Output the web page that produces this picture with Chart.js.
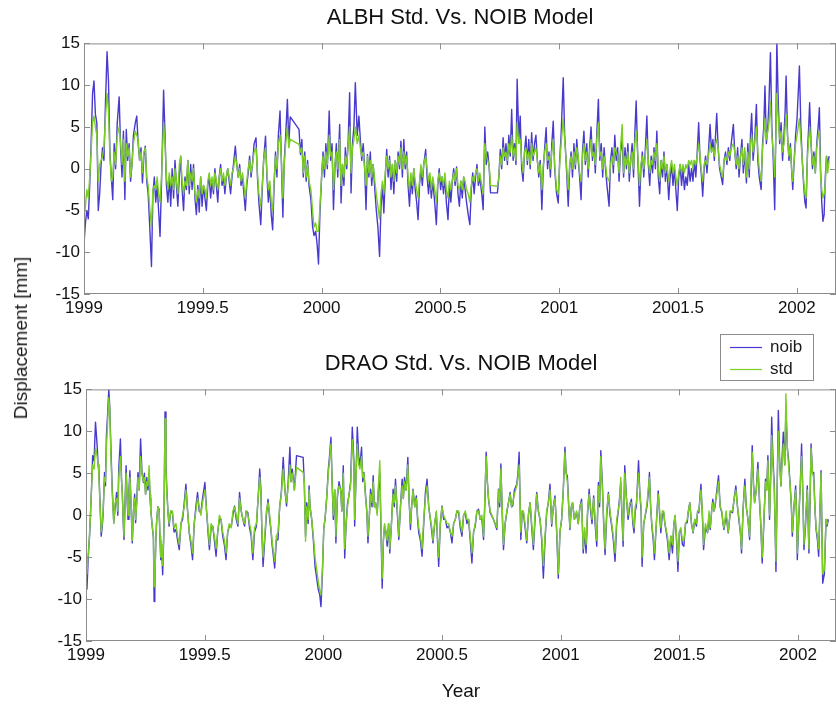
<!DOCTYPE html>
<html>
<head>
<meta charset="utf-8">
<title>ALBH / DRAO Std. Vs. NOIB Model</title>
<script src="https://cdn.jsdelivr.net/npm/chart.js@4.4.1/dist/chart.umd.min.js"></script>
<style>
  body { margin: 0; background: #fff; }
  #wrap { position: relative; width: 836px; height: 704px; overflow: hidden; font-family: "Liberation Sans", Arial, Helvetica, sans-serif; }
  #wrap canvas { position: absolute; left: 0; }
  #ylab { position: absolute; left: 21px; top: 338px; transform: translate(-50%, -50%) rotate(-90deg); font-size: 19px; color: #1a1a1a; white-space: nowrap; }
</style>
</head>
<body>
<div id="wrap">
  <canvas id="albh" width="836" height="330" style="top:0"></canvas>
  <canvas id="drao" width="836" height="374" style="top:330px"></canvas>
  <div id="ylab">Displacement [mm]</div>
</div>
<script>
// ---- data (decimal year, displacement in mm) ----
const xTicks = [1999, 1999.5, 2000, 2000.5, 2001, 2001.5, 2002];
const yTicks = [-15, -10, -5, 0, 5, 10, 15];
const seriesNames = ['noib', 'std'];

const albhYears = [
1999.000,1999.006,1999.012,1999.018,1999.024,1999.030,1999.036,1999.042,1999.048,1999.054,
1999.060,1999.066,1999.072,1999.078,1999.084,1999.090,1999.097,1999.103,1999.109,1999.115,
1999.121,1999.127,1999.133,1999.140,1999.148,1999.154,1999.160,1999.166,1999.172,1999.178,
1999.184,1999.190,1999.196,1999.202,1999.208,1999.216,1999.222,1999.228,1999.234,1999.240,
1999.246,1999.252,1999.258,1999.264,1999.270,1999.276,1999.284,1999.290,1999.296,1999.302,
1999.308,1999.314,1999.320,1999.326,1999.335,1999.341,1999.347,1999.353,1999.359,1999.365,
1999.371,1999.377,1999.383,1999.389,1999.395,1999.401,1999.407,1999.413,1999.419,1999.425,
1999.431,1999.437,1999.443,1999.449,1999.455,1999.461,1999.467,1999.473,1999.479,1999.485,
1999.491,1999.497,1999.503,1999.509,1999.515,1999.521,1999.527,1999.533,1999.539,1999.545,
1999.551,1999.557,1999.563,1999.569,1999.575,1999.581,1999.587,1999.593,1999.599,1999.605,
1999.611,1999.617,1999.623,1999.629,1999.637,1999.643,1999.649,1999.655,1999.661,1999.667,
1999.673,1999.679,1999.685,1999.691,1999.697,1999.703,1999.709,1999.716,1999.724,1999.730,
1999.736,1999.744,1999.750,1999.756,1999.764,1999.770,1999.776,1999.782,1999.788,1999.794,
1999.800,1999.806,1999.812,1999.818,1999.825,1999.831,1999.837,1999.843,1999.849,1999.856,
1999.862,1999.868,1999.905,1999.911,1999.917,1999.923,1999.929,1999.935,1999.941,1999.947,
1999.955,1999.962,1999.968,1999.975,1999.981,1999.987,1999.993,2000.000,2000.006,2000.012,
2000.018,2000.024,2000.032,2000.038,2000.044,2000.050,2000.056,2000.062,2000.068,2000.076,
2000.082,2000.088,2000.094,2000.100,2000.106,2000.112,2000.118,2000.124,2000.130,2000.136,
2000.142,2000.150,2000.157,2000.163,2000.169,2000.175,2000.181,2000.187,2000.193,2000.199,
2000.205,2000.211,2000.217,2000.224,2000.230,2000.237,2000.244,2000.250,2000.256,2000.262,
2000.268,2000.274,2000.280,2000.286,2000.292,2000.298,2000.304,2000.310,2000.316,2000.322,
2000.328,2000.334,2000.340,2000.346,2000.352,2000.358,2000.364,2000.370,2000.376,2000.382,
2000.388,2000.394,2000.400,2000.406,2000.412,2000.418,2000.424,2000.430,2000.438,2000.444,
2000.450,2000.456,2000.462,2000.468,2000.476,2000.483,2000.489,2000.495,2000.501,2000.507,
2000.513,2000.519,2000.525,2000.532,2000.538,2000.544,2000.550,2000.556,2000.562,2000.568,
2000.574,2000.580,2000.586,2000.592,2000.598,2000.604,2000.610,2000.617,2000.624,2000.630,
2000.636,2000.642,2000.648,2000.654,2000.660,2000.666,2000.674,2000.680,2000.687,2000.693,
2000.699,2000.705,2000.711,2000.740,2000.746,2000.752,2000.758,2000.764,2000.770,2000.776,
2000.782,2000.788,2000.794,2000.800,2000.806,2000.812,2000.818,2000.823,2000.830,2000.836,
2000.842,2000.848,2000.854,2000.860,2000.866,2000.872,2000.878,2000.884,2000.890,2000.896,
2000.902,2000.908,2000.914,2000.920,2000.927,2000.933,2000.939,2000.945,2000.951,2000.957,
2000.963,2000.969,2000.975,2000.981,2000.989,2000.996,2001.002,2001.008,2001.017,2001.023,
2001.029,2001.038,2001.044,2001.050,2001.056,2001.062,2001.068,2001.074,2001.080,2001.086,
2001.092,2001.098,2001.104,2001.110,2001.116,2001.122,2001.128,2001.134,2001.140,2001.146,
2001.152,2001.158,2001.165,2001.171,2001.177,2001.183,2001.189,2001.195,2001.201,2001.210,
2001.216,2001.222,2001.228,2001.234,2001.240,2001.246,2001.252,2001.258,2001.265,2001.271,
2001.277,2001.283,2001.289,2001.295,2001.301,2001.307,2001.313,2001.318,2001.324,2001.330,
2001.338,2001.344,2001.350,2001.356,2001.362,2001.369,2001.375,2001.381,2001.387,2001.393,
2001.399,2001.405,2001.411,2001.417,2001.423,2001.429,2001.435,2001.441,2001.447,2001.453,
2001.461,2001.467,2001.473,2001.479,2001.485,2001.491,2001.497,2001.503,2001.509,2001.515,
2001.521,2001.527,2001.533,2001.539,2001.545,2001.551,2001.557,2001.563,2001.569,2001.575,
2001.581,2001.587,2001.593,2001.599,2001.604,2001.610,2001.616,2001.622,2001.628,2001.635,
2001.641,2001.647,2001.653,2001.658,2001.663,2001.669,2001.675,2001.682,2001.688,2001.694,
2001.700,2001.706,2001.712,2001.718,2001.724,2001.733,2001.739,2001.745,2001.751,2001.757,
2001.763,2001.769,2001.775,2001.781,2001.788,2001.794,2001.800,2001.805,2001.810,2001.816,
2001.822,2001.830,2001.836,2001.842,2001.850,2001.856,2001.861,2001.866,2001.872,2001.878,
2001.883,2001.889,2001.895,2001.901,2001.907,2001.912,2001.916,2001.922,2001.928,2001.934,
2001.940,2001.946,2001.951,2001.955,2001.961,2001.967,2001.973,2001.978,2001.983,2001.989,
2001.995,2002.001,2002.006,2002.011,2002.017,2002.023,2002.029,2002.034,2002.039,2002.045,
2002.050,2002.054,2002.060,2002.066,2002.072,2002.078,2002.084,2002.090,2002.095,2002.100,
2002.105,2002.110,2002.115,2002.120,2002.125,2002.130,2002.136
];
const albhNoib = [
-9.0,-6.5,-5.0,-6.0,-2.0,3.0,9.0,10.5,6.5,5.5,
-5.0,-3.0,0.5,2.5,1.0,7.5,14.0,10.5,2.0,-1.0,
-3.7,3.0,0.0,5.5,8.6,2.5,-1.0,4.5,-3.7,4.7,
1.0,3.0,-1.5,0.5,4.0,5.5,6.3,3.0,1.0,2.5,
-1.7,1.5,2.7,-1.5,-3.0,-6.5,-11.7,-3.0,-1.0,-4.0,
-2.0,-5.0,-8.1,-2.0,9.4,4.0,-2.0,-4.0,-1.0,-4.5,
0.0,-3.5,1.0,-2.0,-4.5,-1.0,1.5,-2.5,-5.0,-1.0,
-2.5,1.0,-3.0,0.5,-2.5,0.5,-3.5,-5.5,-2.0,-5.2,
-1.0,-4.5,-2.0,-3.5,-5.0,-2.0,-1.0,-3.5,-1.5,-3.0,
0.0,-2.0,-4.0,-1.0,0.5,-2.0,-1.0,-3.0,-1.0,0.0,
-1.5,-3.0,-1.0,0.5,2.7,0.5,-1.0,0.5,-2.0,-1.0,
-3.0,-5.0,-2.0,-0.5,1.5,-1.0,0.5,3.0,3.7,-1.0,
-4.0,-6.7,-2.5,1.0,3.9,-1.0,-4.0,-2.0,-5.5,-7.3,
-2.0,2.0,-1.0,4.0,6.9,0.5,-5.8,1.0,4.0,8.3,
3.0,6.2,4.7,1.7,3.5,-1.0,2.0,-1.5,1.0,-2.0,
-3.7,-6.9,-8.0,-7.5,-9.0,-11.4,-5.3,-1.0,2.0,-1.0,
3.0,0.0,6.9,1.0,3.0,-4.9,0.0,3.0,-1.0,5.3,
-4.1,0.5,-2.0,2.5,0.0,3.5,9.1,-2.9,3.0,5.0,
10.3,4.0,6.3,3.5,1.0,3.0,0.3,-4.9,1.7,-1.0,
2.0,-2.0,0.5,-2.5,-4.9,-7.0,-10.5,-4.5,-2.0,-5.3,
-1.0,2.3,-1.0,1.5,-2.5,0.5,-3.0,1.0,-1.5,2.0,
0.0,3.3,-1.0,3.5,0.0,2.0,-2.0,-4.5,-1.0,-3.0,
0.0,-2.5,-4.0,-6.1,-2.0,0.0,-2.0,0.5,2.3,-1.0,
-3.0,-1.0,-3.5,-1.5,-4.0,-6.7,-2.0,0.0,-2.5,-1.0,
-3.0,-1.0,-4.0,-6.1,-2.0,-4.0,-1.5,0.0,-2.0,0.2,
-3.0,-4.5,-1.5,-3.5,-1.0,-2.5,-4.0,-5.5,-6.7,-2.5,
-0.5,-3.0,-1.0,0.5,-2.0,-1.0,-3.0,-4.9,5.0,0.5,
2.0,0.3,-2.9,-2.9,-1.0,2.3,0.0,3.7,1.0,3.0,
0.5,4.0,1.5,7.1,1.0,3.0,0.5,10.7,3.5,6.3,
0.0,-1.5,2.0,3.9,0.5,3.5,0.0,4.3,1.0,3.0,
4.0,1.0,-1.0,1.0,-4.9,0.0,2.5,4.9,0.0,2.0,
-1.0,3.0,5.7,0.0,-3.0,-4.1,1.0,4.0,10.9,4.0,
1.0,-4.5,0.0,2.0,-1.0,3.0,0.0,3.5,1.0,-1.0,
-3.7,2.0,4.5,0.5,3.0,-1.0,2.5,5.0,1.0,3.0,
-0.5,4.0,8.3,1.0,3.0,-1.0,2.5,0.0,-2.0,-4.5,
1.0,2.5,-0.5,4.0,1.0,2.5,-1.5,2.0,3.5,-1.0,
2.5,0.0,3.0,-1.5,1.0,3.0,-1.0,4.0,8.1,2.0,
-4.5,0.0,2.0,-1.0,2.0,6.3,0.5,-2.0,1.5,-0.5,
2.5,0.0,4.5,-1.0,-3.0,1.0,-1.0,2.0,-1.5,0.5,
-3.7,-1.0,0.5,-2.0,0.0,-2.5,-5.0,-1.0,0.5,-2.0,
0.0,-2.5,-1.0,-2.0,0.5,-1.5,0.0,-1.5,1.0,-1.0,
2.0,5.5,1.0,-1.0,-3.3,0.0,1.5,-0.5,2.0,5.3,
2.0,3.5,1.0,4.0,6.6,2.5,0.0,-1.0,-1.9,1.0,
2.0,0.5,2.5,1.0,3.0,5.3,2.0,0.0,2.5,-1.0,
1.5,3.5,-0.5,2.0,-1.7,3.0,-1.0,4.0,6.6,1.0,
3.0,7.7,1.0,-1.0,-2.5,3.0,5.0,9.9,3.0,5.0,
8.0,13.9,5.0,1.0,-4.9,5.0,15.2,8.0,3.0,5.5,
1.0,4.0,7.0,11.1,4.0,1.0,3.0,0.0,-2.5,1.0,
4.0,6.0,9.0,12.3,5.0,1.0,-2.0,-4.0,-4.7,2.0,
5.0,7.9,3.0,0.0,2.0,-0.5,3.0,5.0,7.3,0.0,
-4.0,-6.3,-5.5,-1.0,1.5,0.5,1.5
];
const albhStd = [
-6.0,-4.5,-2.5,-3.5,-1.0,2.0,5.5,6.3,5.0,4.0,
-1.5,0.5,1.0,1.5,2.5,6.0,9.0,7.0,1.5,-1.5,
-1.0,2.0,0.5,4.0,5.0,3.0,0.5,3.5,-1.5,3.0,
1.5,2.5,-1.0,0.5,3.0,4.5,4.0,3.5,1.0,2.0,
-0.5,2.0,2.5,-1.0,-2.0,-4.5,-7.0,-2.5,-2.0,-2.5,
-1.0,-3.0,-4.0,-1.0,5.5,3.0,-1.0,-2.5,-0.5,-2.0,
-1.0,-2.5,0.0,-1.5,-3.0,0.5,1.5,-1.5,-3.0,-1.5,
-2.0,1.0,-2.0,-0.5,-1.5,0.0,-3.0,-4.0,-2.5,-3.5,
-1.0,-3.0,-2.0,-2.5,-3.5,-1.5,-0.5,-2.0,-1.0,-2.5,
-0.5,-1.5,-2.5,-1.0,0.0,-1.5,-0.5,-2.0,-1.0,0.0,
-1.0,-2.0,-0.5,0.0,1.5,0.5,-1.0,0.0,-1.5,-0.5,
-2.0,-3.5,-1.5,0.0,1.0,-0.5,0.5,2.0,2.5,-0.5,
-3.0,-4.5,-2.0,1.0,2.5,-0.5,-2.5,-1.5,-4.0,-5.0,
-1.5,1.5,0.0,3.0,4.0,1.0,-3.5,0.5,3.0,5.0,
2.5,3.5,2.9,2.0,2.5,-0.5,1.5,-1.0,0.5,-1.5,
-2.5,-5.0,-7.0,-6.5,-7.5,-7.5,-4.5,-1.0,1.5,0.0,
2.0,0.5,4.0,1.5,2.0,-2.5,0.5,2.0,0.0,3.5,
-2.0,0.5,-1.0,1.5,0.5,3.0,5.0,-0.5,2.5,3.5,
5.0,3.0,4.0,2.5,1.5,2.0,0.0,-2.0,1.5,-0.5,
1.0,-1.0,0.5,-1.5,-3.0,-4.5,-6.0,-3.0,-1.5,-3.0,
-0.5,1.5,0.0,1.0,-1.0,0.5,-1.5,1.0,-0.5,1.5,
0.5,2.5,0.0,2.0,0.5,1.5,-1.0,-2.5,-0.5,-2.0,
0.0,-1.5,-2.5,-3.5,-1.5,0.5,-1.0,0.5,1.5,0.0,
-1.5,-0.5,-2.5,-1.0,-2.5,-4.0,-1.5,-0.5,-1.5,-1.0,
-2.0,-0.5,-2.5,-3.5,-1.5,-2.5,-1.5,-0.5,-1.5,0.0,
-2.0,-2.5,-1.5,-2.5,-1.0,-1.5,-2.5,-3.0,-4.0,-2.0,
-1.0,-1.5,-0.5,0.0,-1.5,-0.5,-2.0,-3.0,3.0,1.5,
1.0,0.5,-2.0,-2.1,-1.0,1.5,0.5,2.5,1.5,2.0,
1.0,3.0,2.0,4.0,1.5,2.5,1.0,5.5,3.0,3.5,
1.0,-0.5,2.0,2.5,1.0,2.0,0.5,3.0,1.5,2.0,
2.5,1.0,-0.5,0.5,-2.5,0.5,2.0,3.0,1.0,1.5,
0.0,2.0,3.5,0.5,-2.5,-3.0,0.5,3.0,6.0,3.5,
1.0,-2.5,0.5,1.5,0.0,2.0,0.5,2.5,1.5,-0.5,
-1.5,1.5,3.0,1.0,2.0,0.0,2.0,3.5,1.5,2.0,
0.5,3.5,5.5,1.5,2.0,0.0,1.5,0.5,-1.0,-1.5,
0.5,1.5,0.5,2.5,2.0,1.5,-0.5,2.5,5.3,-0.5,
1.5,0.5,2.0,-0.5,1.0,2.0,0.0,3.0,4.5,2.0,
-2.0,0.5,1.5,0.0,1.5,3.5,1.0,-0.5,1.0,0.5,
2.0,1.0,3.0,0.0,-1.5,1.0,0.0,1.5,-0.5,0.5,
-1.5,0.0,1.0,-0.5,0.5,-1.0,-2.0,-0.5,0.5,-0.5,
0.5,-0.5,0.5,0.0,1.0,0.5,1.0,0.0,1.0,0.5,
1.5,3.0,1.5,-0.5,-1.5,0.5,1.0,0.5,1.5,3.0,
2.0,2.5,1.5,3.0,3.5,2.5,0.5,-0.5,-1.0,1.0,
1.5,1.0,2.0,1.5,2.5,3.0,2.0,0.5,1.5,0.0,
1.5,2.5,0.5,2.5,-1.0,2.0,0.0,3.0,4.0,2.0,
3.0,5.0,2.0,0.0,-1.5,2.5,4.0,6.0,3.5,4.5,
5.5,8.0,4.0,2.0,-1.0,4.0,9.0,6.0,3.5,4.5,
2.0,3.0,5.0,6.5,4.0,1.5,2.5,0.0,-1.5,1.0,
3.0,4.0,5.0,6.0,3.5,1.0,-1.5,-3.0,-3.5,1.5,
3.5,5.0,3.0,0.5,1.5,-0.5,2.5,4.0,4.5,-1.0,
-2.5,-3.5,-3.0,-2.0,1.5,-0.5,1.0
];

const draoYears = [
1999.000,1999.004,1999.008,1999.011,1999.015,1999.018,1999.023,1999.028,1999.034,1999.040,
1999.044,1999.047,1999.051,1999.054,1999.058,1999.064,1999.068,1999.072,1999.078,1999.082,
1999.086,1999.091,1999.096,1999.100,1999.105,1999.110,1999.117,1999.123,1999.129,1999.134,
1999.138,1999.145,1999.150,1999.153,1999.157,1999.160,1999.165,1999.169,1999.173,1999.177,
1999.181,1999.185,1999.190,1999.195,1999.200,1999.205,1999.209,1999.214,1999.219,1999.224,
1999.230,1999.236,1999.242,1999.246,1999.251,1999.256,1999.261,1999.266,1999.270,1999.273,
1999.278,1999.284,1999.287,1999.290,1999.294,1999.298,1999.303,1999.308,1999.312,1999.315,
1999.319,1999.323,1999.328,1999.333,1999.337,1999.340,1999.345,1999.350,1999.357,1999.364,
1999.371,1999.379,1999.386,1999.393,1999.400,1999.407,1999.414,1999.421,1999.428,1999.435,
1999.442,1999.449,1999.456,1999.463,1999.470,1999.477,1999.484,1999.491,1999.501,1999.508,
1999.514,1999.520,1999.527,1999.534,1999.541,1999.548,1999.555,1999.562,1999.569,1999.576,
1999.583,1999.590,1999.597,1999.604,1999.612,1999.619,1999.626,1999.633,1999.640,1999.647,
1999.654,1999.661,1999.668,1999.675,1999.682,1999.689,1999.696,1999.703,1999.710,1999.718,
1999.725,1999.732,1999.737,1999.741,1999.746,1999.753,1999.760,1999.767,1999.774,1999.779,
1999.784,1999.790,1999.795,1999.802,1999.809,1999.816,1999.823,1999.831,1999.838,1999.845,
1999.852,1999.859,1999.864,1999.869,1999.878,1999.887,1999.915,1999.920,1999.925,1999.930,
1999.936,1999.940,1999.944,1999.951,1999.958,1999.965,1999.972,1999.979,1999.985,1999.990,
1999.996,2000.002,2000.007,2000.014,2000.021,2000.026,2000.032,2000.037,2000.042,2000.048,
2000.053,2000.059,2000.066,2000.073,2000.078,2000.084,2000.090,2000.096,2000.102,2000.108,
2000.115,2000.122,2000.129,2000.132,2000.137,2000.143,2000.149,2000.154,2000.161,2000.166,
2000.171,2000.178,2000.183,2000.188,2000.194,2000.199,2000.205,2000.210,2000.215,2000.220,
2000.227,2000.232,2000.238,2000.243,2000.248,2000.253,2000.258,2000.264,2000.269,2000.275,
2000.280,2000.287,2000.294,2000.299,2000.304,2000.311,2000.318,2000.325,2000.332,2000.337,
2000.342,2000.349,2000.356,2000.361,2000.367,2000.372,2000.378,2000.385,2000.392,2000.397,
2000.402,2000.409,2000.416,2000.423,2000.430,2000.437,2000.444,2000.451,2000.457,2000.462,
2000.469,2000.476,2000.481,2000.486,2000.493,2000.500,2000.507,2000.514,2000.521,2000.528,
2000.535,2000.542,2000.549,2000.556,2000.563,2000.570,2000.577,2000.584,2000.591,2000.598,
2000.605,2000.612,2000.619,2000.626,2000.633,2000.640,2000.647,2000.654,2000.661,2000.668,
2000.675,2000.680,2000.686,2000.691,2000.696,2000.703,2000.717,2000.731,2000.738,2000.743,
2000.748,2000.754,2000.759,2000.766,2000.773,2000.780,2000.787,2000.793,2000.798,2000.805,
2000.815,2000.820,2000.825,2000.830,2000.832,2000.838,2000.843,2000.850,2000.857,2000.864,
2000.871,2000.878,2000.885,2000.892,2000.899,2000.906,2000.913,2000.920,2000.927,2000.934,
2000.941,2000.948,2000.955,2000.962,2000.969,2000.976,2000.983,2000.990,2000.997,2001.004,
2001.011,2001.018,2001.023,2001.028,2001.034,2001.039,2001.045,2001.050,2001.058,2001.067,
2001.074,2001.081,2001.088,2001.095,2001.101,2001.107,2001.113,2001.120,2001.126,2001.132,
2001.139,2001.145,2001.152,2001.159,2001.164,2001.169,2001.176,2001.181,2001.187,2001.194,
2001.201,2001.208,2001.215,2001.222,2001.229,2001.236,2001.242,2001.248,2001.253,2001.258,
2001.263,2001.270,2001.277,2001.284,2001.291,2001.298,2001.304,2001.309,2001.314,2001.319,
2001.328,2001.334,2001.339,2001.343,2001.350,2001.356,2001.364,2001.370,2001.374,2001.379,
2001.384,2001.390,2001.395,2001.403,2001.411,2001.417,2001.422,2001.428,2001.434,2001.439,
2001.443,2001.450,2001.457,2001.464,2001.471,2001.477,2001.482,2001.488,2001.494,2001.500,
2001.506,2001.513,2001.519,2001.526,2001.533,2001.538,2001.544,2001.551,2001.558,2001.565,
2001.572,2001.577,2001.582,2001.591,2001.597,2001.602,2001.610,2001.619,2001.625,2001.630,
2001.636,2001.641,2001.646,2001.651,2001.658,2001.665,2001.672,2001.679,2001.684,2001.688,
2001.697,2001.706,2001.715,2001.724,2001.731,2001.738,2001.745,2001.752,2001.757,2001.762,
2001.769,2001.776,2001.782,2001.789,2001.796,2001.802,2001.807,2001.812,2001.817,2001.824,
2001.831,2001.837,2001.843,2001.849,2001.856,2001.863,2001.868,2001.873,2001.880,2001.885,
2001.889,2001.894,2001.900,2001.907,2001.912,2001.917,2001.922,2001.928,2001.933,2001.938,
2001.944,2001.949,2001.955,2001.960,2001.967,2001.972,2001.976,2001.983,2001.990,2001.994,
2001.997,2002.004,2002.010,2002.015,2002.020,2002.025,2002.032,2002.039,2002.046,2002.051,
2002.055,2002.061,2002.066,2002.071,2002.076,2002.082,2002.087,2002.092,2002.097,2002.104,
2002.111,2002.118,2002.122,2002.128
];
const draoNoib = [
-8.5,-8.8,-6.0,-4.1,-2.5,-0.5,3.0,7.1,6.5,11.1,
9.5,8.3,6.0,5.5,2.3,-2.5,-1.5,0.0,5.1,3.5,
9.5,12.0,15.0,13.0,8.0,3.5,-0.9,1.0,2.7,0.0,
5.5,9.1,4.0,2.7,-1.0,-2.9,2.0,5.9,2.0,-0.5,
3.0,5.3,1.0,-3.3,0.5,2.5,-0.9,2.0,5.1,3.0,
9.1,5.0,3.9,5.0,2.5,4.5,3.0,5.0,2.0,0.7,
-1.0,-2.7,-10.3,-8.5,-3.0,-0.5,1.0,0.7,-3.0,-5.3,
-4.0,-7.1,-2.0,12.3,6.0,3.5,0.5,-1.3,0.5,0.3,
-2.0,-1.7,-3.0,-4.1,-1.0,-0.5,1.5,3.7,0.5,-2.1,
-3.5,-5.3,-1.0,1.0,2.7,0.5,0.3,2.0,3.9,0.5,
-2.0,-4.1,-1.5,-1.3,-3.0,-4.9,-2.0,-0.5,-0.5,-2.5,
-3.5,-5.3,-2.0,-1.3,-1.3,0.0,1.1,-0.5,-1.3,2.7,
0.5,-0.5,-1.3,0.5,0.3,-1.5,-2.5,-5.3,-2.0,-1.3,
2.0,5.5,3.0,-2.0,-6.1,-3.0,0.0,1.9,-0.5,-1.7,
-3.5,-5.0,-6.3,-3.0,-2.9,1.0,2.7,6.9,3.0,1.1,
4.0,8.1,4.0,5.5,3.0,7.1,6.9,3.5,-2.5,1.5,
-1.0,3.5,1.0,-0.5,-3.0,-6.1,-7.5,-8.9,-9.5,-10.9,
-7.0,-1.5,-0.5,2.0,5.5,7.0,9.3,4.0,-0.5,3.0,
-3.3,2.0,4.0,3.0,0.5,5.9,-5.1,-1.0,1.5,2.3,
4.0,10.5,6.3,-1.3,4.0,10.5,7.0,5.9,8.1,4.0,
5.1,2.3,0.5,-3.3,0.0,3.1,1.0,4.7,1.0,1.5,
0.3,3.0,5.0,-2.0,-8.7,-3.0,-1.3,-2.0,-3.7,-1.0,
-4.5,-1.0,3.1,1.0,4.3,0.5,-2.9,1.0,4.3,2.0,
4.5,3.0,6.9,2.0,-1.7,1.0,3.1,1.0,2.3,-0.5,
-2.1,-3.0,-4.9,-1.0,2.7,4.3,1.0,-0.5,-2.0,-3.3,
-1.0,0.3,-3.0,-6.1,-1.0,1.1,-0.5,-0.5,-1.5,-1.3,
-2.0,-3.3,-1.0,-0.5,0.5,0.3,-1.5,-2.5,0.0,0.3,
-1.0,-0.5,-3.0,-5.7,-2.0,-1.3,0.5,0.7,-0.5,-0.5,
-2.9,1.0,7.5,4.0,1.9,0.3,-0.5,-1.7,3.1,1.0,
6.1,0.0,-4.1,-1.0,0.3,1.5,2.7,1.0,1.1,3.0,
3.7,5.0,7.5,0.0,-2.9,0.5,0.3,-1.5,-3.3,0.0,
1.5,-1.5,-4.1,-0.5,2.7,0.5,-0.5,-3.0,-7.5,-3.0,
0.3,1.5,3.7,-1.3,1.0,2.3,-2.0,-7.5,-2.0,-0.5,
3.0,8.1,5.0,4.7,1.0,-1.7,1.0,1.5,-0.5,0.3,
-1.0,1.0,1.9,-4.5,-2.0,-4.5,0.0,3.1,0.5,-1.0,
2.3,-1.0,-3.7,3.9,1.0,7.7,3.5,-1.0,-4.7,0.0,
2.7,0.0,-1.3,-3.0,-5.5,-1.0,0.3,2.0,3.9,0.0,
-3.7,5.9,2.0,-0.5,1.0,1.9,-1.0,-2.1,0.5,1.1,
6.5,2.3,0.5,-6.1,-1.0,-0.1,1.1,3.0,5.1,1.0,
-1.3,-3.0,-5.3,-1.0,2.9,0.0,-2.1,0.0,0.3,-1.0,
-1.7,-3.0,-5.3,-2.5,-4.5,-1.0,-0.1,-3.0,-6.7,-2.0,
-1.7,-3.5,-3.7,-1.0,-0.9,0.5,1.5,-1.0,-2.1,-0.5,
-1.3,0.5,0.3,3.7,0.0,-4.1,-1.5,-2.1,0.0,-1.7,
0.5,1.9,0.5,1.1,3.0,4.7,1.0,0.3,-1.0,-1.7,
0.0,-2.1,0.5,0.3,2.0,3.5,1.0,-0.9,-2.0,-4.5,
1.0,4.3,1.0,-0.5,-2.9,3.0,8.3,4.0,1.5,3.0,
6.3,2.0,-1.0,-5.7,-1.0,4.3,3.0,7.1,-0.5,5.0,
11.7,7.0,3.5,-6.7,3.0,12.5,7.0,3.5,7.0,9.9,
6.0,12.5,8.0,6.7,3.5,1.0,-2.5,1.0,3.5,0.0,
-5.3,0.0,4.0,8.5,3.0,-4.1,-1.0,3.5,-4.5,2.0,
8.5,5.0,5.1,1.0,-1.7,-3.0,-4.9,0.0,5.3,-8.1,
-7.0,-0.5,-1.3,-0.5
];
const draoStd = [
-6.0,-7.0,-5.0,-4.5,-2.0,-0.5,3.0,6.0,5.5,8.0,
7.5,7.0,6.0,5.0,2.0,-2.0,-1.0,0.5,4.5,4.0,
8.0,11.0,14.0,12.5,7.0,3.0,-1.0,1.5,2.0,0.5,
4.5,7.0,4.0,2.5,-0.5,-2.5,1.5,5.0,2.5,0.0,
2.5,4.5,1.5,-3.0,0.5,2.0,-0.5,1.5,4.5,3.0,
7.0,5.0,4.0,4.5,2.5,4.0,3.5,5.9,2.5,0.5,
-1.0,-2.5,-8.5,-8.0,-3.0,-0.5,1.0,0.5,-2.5,-5.0,
-3.5,-6.0,-2.0,11.5,5.5,3.0,0.5,-1.0,0.5,0.5,
-1.5,-1.0,-2.5,-3.5,-1.0,0.0,1.0,3.0,0.5,-2.0,
-3.0,-4.5,-1.0,0.5,2.0,1.0,0.0,1.5,3.0,0.5,
-1.5,-3.5,-1.0,-1.5,-2.5,-4.0,-2.0,0.0,-0.5,-2.0,
-3.0,-4.5,-2.0,-1.0,-1.5,0.5,1.0,0.0,-1.0,2.0,
0.5,-0.5,-1.0,0.5,0.0,-1.0,-2.0,-4.5,-1.5,-1.0,
2.0,4.5,2.5,-1.5,-5.0,-2.5,0.5,1.5,0.0,-1.5,
-3.0,-4.5,-5.5,-2.5,-2.0,1.0,2.5,5.5,3.0,1.5,
3.5,6.0,4.0,5.0,3.0,5.7,5.1,4.0,-3.1,1.0,
-0.5,3.0,1.0,-0.5,-2.5,-5.0,-6.5,-8.0,-9.0,-9.5,
-6.5,-1.5,-0.5,2.0,5.0,6.5,8.5,4.0,0.0,3.0,
-2.5,2.5,3.5,3.0,0.5,5.0,-4.0,-1.0,1.0,2.5,
3.5,9.0,6.0,-0.5,4.0,8.5,6.0,5.5,7.0,4.5,
5.0,2.0,0.5,-2.5,0.0,2.5,1.5,4.0,1.0,1.5,
0.0,3.5,6.5,-1.5,-7.5,-3.0,-1.0,-2.0,-3.0,-1.0,
-4.0,-1.0,2.5,1.5,3.5,1.0,-2.5,1.0,3.5,2.0,
4.0,3.0,6.0,2.0,-1.0,1.0,3.0,1.0,2.0,0.0,
-1.5,-2.5,-4.0,-0.5,2.0,3.5,1.0,-0.5,-1.5,-3.0,
-1.0,0.5,-2.5,-5.0,-1.0,1.0,0.0,-0.5,-1.0,-1.0,
-2.0,-2.5,-1.0,-0.5,0.5,0.5,-1.0,-2.0,0.0,0.5,
-0.5,-0.5,-2.5,-4.5,-2.0,-1.0,0.5,0.5,-0.5,0.0,
-2.5,1.5,7.0,4.0,2.0,0.5,-0.5,-1.5,3.0,1.5,
5.5,0.5,-3.5,-1.0,0.5,1.5,2.5,1.0,1.5,2.5,
3.5,4.5,6.0,0.5,-2.0,0.5,0.5,-1.0,-3.0,0.0,
1.5,-1.0,-3.5,0.0,2.5,0.5,-0.5,-2.5,-6.0,-2.5,
0.5,1.5,3.0,-1.0,1.0,2.0,-1.5,-7.0,-2.0,-0.5,
3.0,7.5,5.0,4.0,1.0,-1.5,1.0,1.5,-0.5,0.5,
-1.0,1.0,1.5,-4.0,-1.5,-3.5,0.5,2.5,1.0,-0.5,
2.0,-0.5,-3.0,3.5,1.5,7.0,3.0,-0.5,-4.0,0.5,
2.5,0.5,-1.0,-2.5,-4.5,-0.5,0.5,1.5,4.5,0.5,
-3.0,5.0,2.0,0.0,1.5,1.5,-0.5,-1.5,1.0,1.5,
5.0,2.5,1.0,-5.0,-1.0,0.0,1.5,3.5,4.5,1.0,
-1.0,-2.5,-4.5,-1.0,2.5,0.5,-1.5,0.5,0.5,-1.0,
-1.5,-2.5,-4.5,-2.5,-3.5,-1.0,0.0,-2.5,-5.5,-2.0,
-1.5,-3.0,-3.0,-1.0,-0.5,0.5,1.5,-1.0,-2.0,-0.5,
-1.0,0.5,0.5,3.0,0.5,-3.5,-1.0,-2.0,0.5,-1.5,
0.5,1.5,0.5,1.5,2.5,4.0,1.0,0.5,-1.0,-1.5,
0.5,-2.0,0.5,0.5,2.0,3.0,1.0,-0.5,-2.0,-4.0,
1.0,3.5,1.0,-0.5,-2.5,3.5,7.5,3.5,1.5,3.0,
5.5,2.5,-1.0,-5.0,-0.5,4.0,3.0,6.5,0.0,4.5,
9.5,6.0,3.0,-5.5,3.0,10.0,6.5,3.5,6.5,8.5,
6.0,14.5,8.0,6.0,3.5,1.0,-2.0,1.0,3.0,0.0,
-4.5,0.5,4.0,7.0,3.0,-3.5,-0.5,3.0,-4.0,2.5,
8.0,5.0,4.5,1.0,-1.5,-2.5,-4.0,0.5,5.0,-7.0,
-6.5,-0.5,-1.0,-1.0
];

// ---- styling ----
const FONT = '"Liberation Sans", Arial, Helvetica, sans-serif';
const NOIB_COLOR = 'rgb(72,58,205)';
const STD_COLOR = 'rgb(122,206,38)';
const AXIS_COLOR = '#8c8c8c';

// matlab style frame with inward tick marks
const framePlugin = {
  id: 'frame',
  afterDatasetsDraw(chart) {
    const {ctx, chartArea: a, scales: {x, y}} = chart;
    ctx.save();
    ctx.strokeStyle = AXIS_COLOR;
    ctx.lineWidth = 1;
    ctx.strokeRect(a.left + 0.5, a.top + 0.5, a.right - a.left - 1, a.bottom - a.top - 1);
    ctx.beginPath();
    xTicks.forEach(v => {
      const px = Math.round(x.getPixelForValue(v)) + 0.5;
      ctx.moveTo(px, a.bottom); ctx.lineTo(px, a.bottom - 6);
      ctx.moveTo(px, a.top); ctx.lineTo(px, a.top + 6);
    });
    yTicks.forEach(v => {
      const py = Math.round(y.getPixelForValue(v)) + 0.5;
      ctx.moveTo(a.left, py); ctx.lineTo(a.left + 6, py);
      ctx.moveTo(a.right, py); ctx.lineTo(a.right - 6, py);
    });
    ctx.stroke();
    ctx.restore();
  }
};

// legend box sitting above the lower plot, right side
const legendBoxPlugin = {
  id: 'legendBox',
  afterDraw(chart) {
    const ctx = chart.ctx;
    const bx = 720, by = 4, bw = 93, bh = 46;
    ctx.save();
    ctx.fillStyle = '#fff';
    ctx.fillRect(bx, by, bw, bh);
    ctx.strokeStyle = AXIS_COLOR;
    ctx.lineWidth = 1;
    ctx.strokeRect(bx + 0.5, by + 0.5, bw, bh);
    ctx.font = '17px ' + FONT;
    ctx.textBaseline = 'middle';
    ctx.fillStyle = '#1a1a1a';
    chart.data.datasets.forEach((ds, i) => {
      const ly = by + 13 + i * 22;
      ctx.strokeStyle = ds.borderColor;
      ctx.lineWidth = 1.2;
      ctx.beginPath();
      ctx.moveTo(bx + 10, ly + 0.5);
      ctx.lineTo(bx + 42, ly + 0.5);
      ctx.stroke();
      ctx.fillText(ds.label, bx + 50, ly);
    });
    ctx.restore();
  }
};

function makeChart(id, years, noib, std, title, o) {
  return new Chart(document.getElementById(id), {
    type: 'line',
    data: {
      datasets: [
        { label: seriesNames[0], data: years.map((t, i) => ({ x: t, y: noib[i] })), borderColor: NOIB_COLOR, order: 1 },
        { label: seriesNames[1], data: years.map((t, i) => ({ x: t, y: std[i] })), borderColor: STD_COLOR, order: 0 }
      ]
    },
    options: {
      responsive: false,
      animation: false,
      events: [],
      elements: {
        point: { radius: 0 },
        line: { borderWidth: 1.4, tension: 0, borderJoinStyle: 'round', fill: false }
      },
      layout: { padding: 0 },
      plugins: {
        legend: { display: false },
        tooltip: { enabled: false },
        title: {
          display: true, text: title, fullSize: false, color: '#111',
          font: { family: FONT, size: 22, weight: 'normal' },
          padding: o.titlePad
        }
      },
      scales: {
        x: {
          type: 'linear', min: 1999, max: o.xMax,
          grid: { display: false, drawTicks: false }, border: { display: false },
          afterBuildTicks: s => { s.ticks = xTicks.map(v => ({ value: v })); },
          afterFit: s => { s.height = o.xHeight; },
          ticks: { color: '#111', font: { family: FONT, size: 17 }, padding: 4, maxRotation: 0, autoSkip: false, callback: v => String(v) },
          title: o.xTitle
            ? { display: true, text: o.xTitle, color: '#111', font: { family: FONT, size: 19 }, padding: { top: 0, bottom: 1 } }
            : { display: false }
        },
        y: {
          type: 'linear', min: -15, max: 15,
          grid: { display: false, drawTicks: false }, border: { display: false },
          afterBuildTicks: s => { s.ticks = yTicks.map(v => ({ value: v })); },
          afterFit: s => { s.width = o.yWidth; },
          ticks: { color: '#111', font: { family: FONT, size: 17 }, padding: 4, autoSkip: false, callback: v => String(v) }
        }
      }
    },
    plugins: [framePlugin].concat(o.extra || [])
  });
}

makeChart('albh', albhYears, albhNoib, albhStd, 'ALBH Std. Vs. NOIB Model', {
  titlePad: { top: 5, bottom: 12 }, xHeight: 36, yWidth: 84, xMax: 2002.165
});
makeChart('drao', draoYears, draoNoib, draoStd, 'DRAO Std. Vs. NOIB Model', {
  titlePad: { top: 21, bottom: 12 }, xHeight: 63, yWidth: 86, xMax: 2002.16,
  xTitle: 'Year', extra: [legendBoxPlugin]
});
</script>
</body>
</html>
